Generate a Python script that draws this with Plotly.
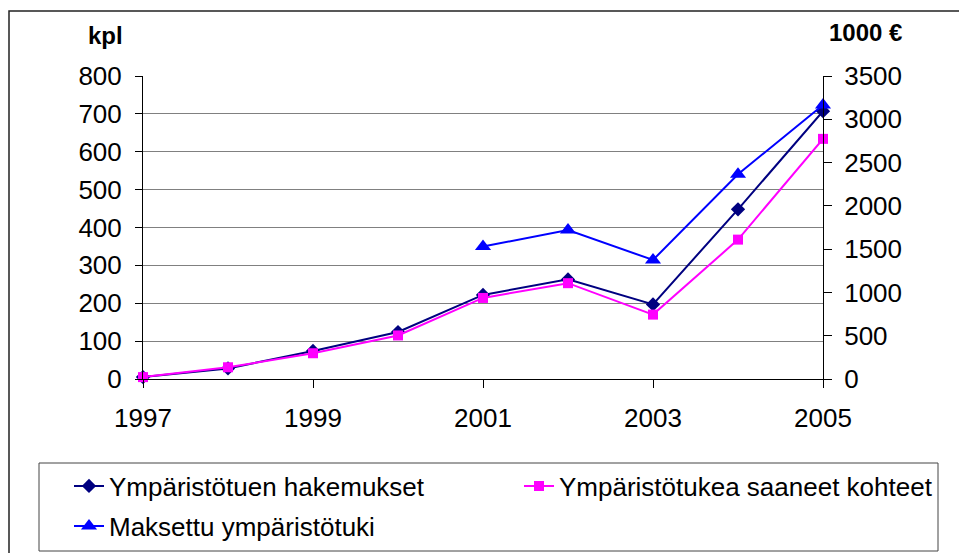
import plotly.graph_objects as go

years = [1997, 1998, 1999, 2000, 2001, 2002, 2003, 2004, 2005]
hakemukset = [5, 28, 74, 124, 222, 263, 197, 448, 707]
saaneet = [5, 31, 68, 115, 214, 253, 170, 368, 634]
maksettu = [None, None, None, None, 1530, 1720, 1375, 2365, 3165]

left_ticks = [0, 100, 200, 300, 400, 500, 600, 700, 800]
right_ticks = [0, 500, 1000, 1500, 2000, 2500, 3000, 3500]
x_ticks = [1997, 1999, 2001, 2003, 2005]

name1 = "Ympäristötuen hakemukset"
name2 = "Ympäristötukea saaneet kohteet"
name3 = "Maksettu ympäristötuki"

FONT = "Liberation Sans, Arial, sans-serif"
W, H = 959, 553
L, R, T, B = 143, 136, 76, 174
PW, PH = W - L - R, H - T - B

def px(x):
    return (x - L) / PW

def py(y):
    return (H - B - y) / PH

fig = go.Figure()
fig.add_trace(go.Scatter(
    x=years, y=hakemukset, name=name1, mode="lines+markers",
    line=dict(color="#000080", width=2),
    marker=dict(symbol="diamond", size=11, color="#000080"),
    cliponaxis=False, legend="legend", showlegend=True))
fig.add_trace(go.Scatter(
    x=years, y=saaneet, name=name2, mode="lines+markers",
    line=dict(color="#FF00FF", width=2),
    marker=dict(symbol="square", size=10, color="#FF00FF"),
    cliponaxis=False, legend="legend2", showlegend=True))
fig.add_trace(go.Scatter(
    x=years, y=maksettu, name=name3, mode="lines+markers", yaxis="y2",
    line=dict(color="#0000FF", width=2),
    marker=dict(symbol="triangle-up", size=14, color="#0000FF"),
    cliponaxis=False, legend="legend3", showlegend=True))

legend_common = dict(font=dict(family=FONT, size=26, color="black"),
                     bgcolor="rgba(0,0,0,0)", borderwidth=0,
                     xanchor="left", yanchor="middle", orientation="v")

fig.update_layout(
    width=W, height=H,
    showlegend=True,
    margin=dict(l=L, r=R, t=T, b=B, autoexpand=False),
    paper_bgcolor="white", plot_bgcolor="white",
    font=dict(family=FONT, size=26, color="black"),
    xaxis=dict(range=[1997, 2005], tickvals=x_ticks, ticks="outside", ticklen=8,
               tickcolor="black", showline=True, linecolor="black", linewidth=1,
               showgrid=False, zeroline=False, ticklabelstandoff=8),
    yaxis=dict(range=[0, 800], tickvals=left_ticks, ticks="outside", ticklen=7,
               tickcolor="black", showline=True, linecolor="black", linewidth=1,
               showgrid=True, gridcolor="#808080", gridwidth=1, zeroline=False,
               ticklabelstandoff=8),
    yaxis2=dict(range=[0, 3500], tickvals=right_ticks, overlaying="y", side="right",
                ticks="outside", ticklen=8, tickcolor="black", showline=True,
                linecolor="black", linewidth=1, showgrid=False, zeroline=False,
                ticklabelstandoff=7),
    legend=dict(x=px(69), y=py(486), **legend_common),
    legend2=dict(x=px(519), y=py(486), **legend_common),
    legend3=dict(x=px(69), y=py(526), **legend_common),
    annotations=[
        dict(text="<b>kpl</b>", xref="paper", yref="paper", x=px(105), y=py(36),
             xanchor="center", yanchor="middle", showarrow=False,
             font=dict(family=FONT, size=24, color="black")),
        dict(text="<b>1000 €</b>", xref="paper", yref="paper", x=px(865), y=py(33),
             xanchor="center", yanchor="middle", showarrow=False,
             font=dict(family=FONT, size=24, color="black")),
    ],
    shapes=[
        dict(type="rect", xref="paper", yref="paper",
             x0=px(9), x1=px(975), y0=py(570), y1=py(11),
             line=dict(color="#222222", width=1.5), layer="below"),
        dict(type="rect", xref="paper", yref="paper",
             x0=px(39), x1=px(938), y0=py(551), y1=py(463),
             line=dict(color="#444444", width=1), layer="below"),
    ],
)

fig.write_html("out.html", config={"displayModeBar": False},
               post_script="document.body.style.margin='0';")
